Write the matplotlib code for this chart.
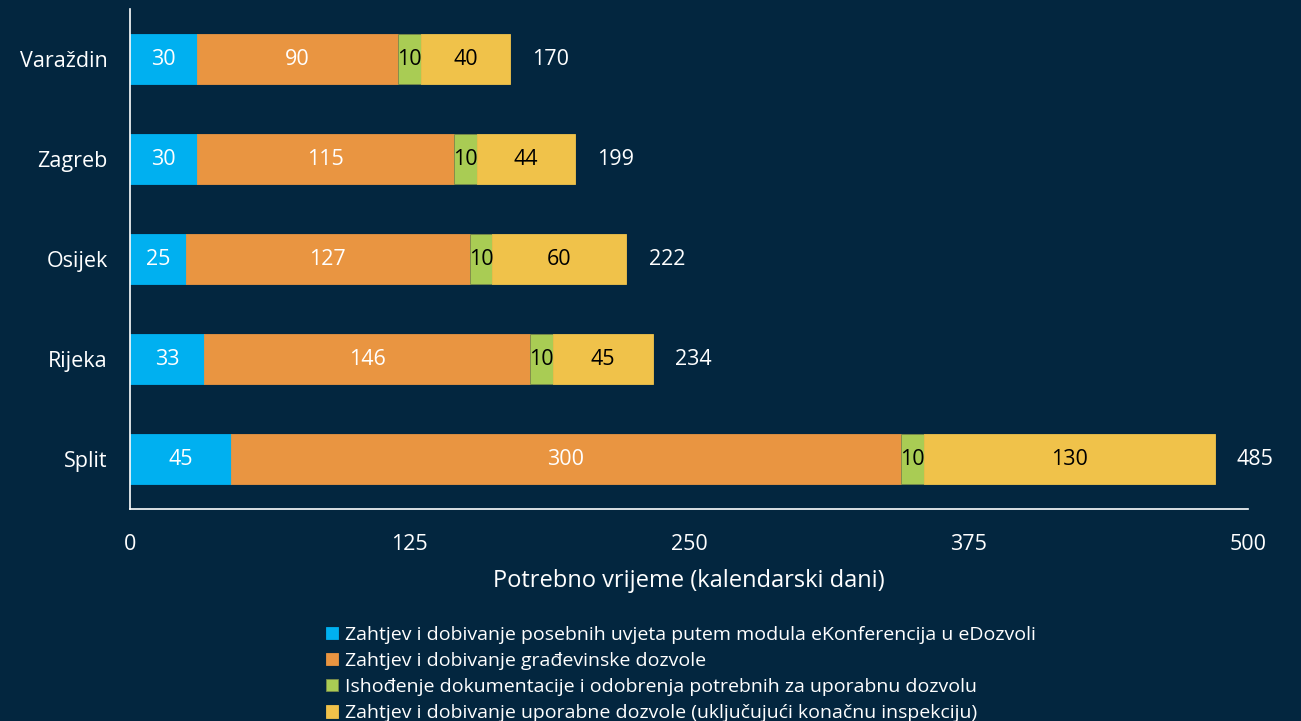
import numpy as np
import matplotlib
matplotlib.use("Agg")
import matplotlib.pyplot as plt

# Data
cities = ["Varaždin", "Zagreb", "Osijek", "Rijeka", "Split"]
ekonferencija = [30, 30, 25, 33, 45]
gradjevinska = [90, 115, 127, 146, 300]
dokumentacija = [10, 10, 10, 10, 10]
uporabna = [40, 44, 60, 45, 130]
totals = [170, 199, 222, 234, 485]

series_names = [
    "Zahtjev i dobivanje posebnih uvjeta putem modula eKonferencija u eDozvoli",
    "Zahtjev i dobivanje građevinske dozvole",
    "Ishođenje dokumentacije i odobrenja potrebnih za uporabnu dozvolu",
    "Zahtjev i dobivanje uporabne dozvole (uključujući konačnu inspekciju)",
]
colors = ["#00b0f0", "#e99541", "#a9cc54", "#f0c24a"]
text_colors = ["white", "white", "black", "black"]
xticks = [0, 125, 250, 375, 500]

bg = "#03263f"
plt.rcParams["font.family"] = ["Open Sans", "DejaVu Sans"]

fig = plt.figure(figsize=(13.01, 7.21), dpi=100, facecolor=bg)
ax = fig.add_axes([0.0999, 0.294, 0.8594, 0.6935], facecolor=bg)

y = np.arange(len(cities))
left = np.zeros(len(cities))
handles = []
for vals, name, col, tcol in zip([ekonferencija, gradjevinska, dokumentacija, uporabna],
                                 series_names, colors, text_colors):
    vals = np.array(vals)
    bars = ax.barh(y, vals, left=left, height=0.5, color=col, label=name,
                   edgecolor="#7a8a4a" if col == "#a9cc54" else col, linewidth=0.6)
    handles.append(bars)
    for yi, l, v in zip(y, left, vals):
        ax.text(l + v / 2, yi, str(v), ha="center", va="center",
                color=tcol, fontsize=15.5)
    left = left + vals

for yi, t in zip(y, totals):
    ax.annotate(str(t), (t, yi), xytext=(16, 0), textcoords="offset points",
                ha="left", va="center", color="white", fontsize=15.5)

ax.set_xlim(0, 500)
ax.set_ylim(4.5, -0.5)
ax.set_yticks(y)
ax.set_yticklabels(cities, color="white", fontsize=15.5)
ax.set_xticks(xticks)
ax.set_xticklabels([str(v) for v in xticks], color="white", fontsize=15.5)
ax.tick_params(axis="both", length=0)
ax.tick_params(axis="y", pad=16)
ax.tick_params(axis="x", pad=18)
ax.set_xlabel("Potrebno vrijeme (kalendarski dani)", color="white", fontsize=17, labelpad=10)

for s in ["top", "right"]:
    ax.spines[s].set_visible(False)
for s in ["left", "bottom"]:
    ax.spines[s].set_color("white")
    ax.spines[s].set_linewidth(1.2)

leg = fig.legend(handles=handles, loc="upper left", bbox_to_anchor=(0.2505, 0.132),
                 frameon=False, fontsize=14, handlelength=0.6, handleheight=0.6,
                 handletextpad=0.4, labelspacing=0.42, borderaxespad=0, borderpad=0)
for t in leg.get_texts():
    t.set_color("white")

fig.savefig("out.png", dpi=100, facecolor=bg)
